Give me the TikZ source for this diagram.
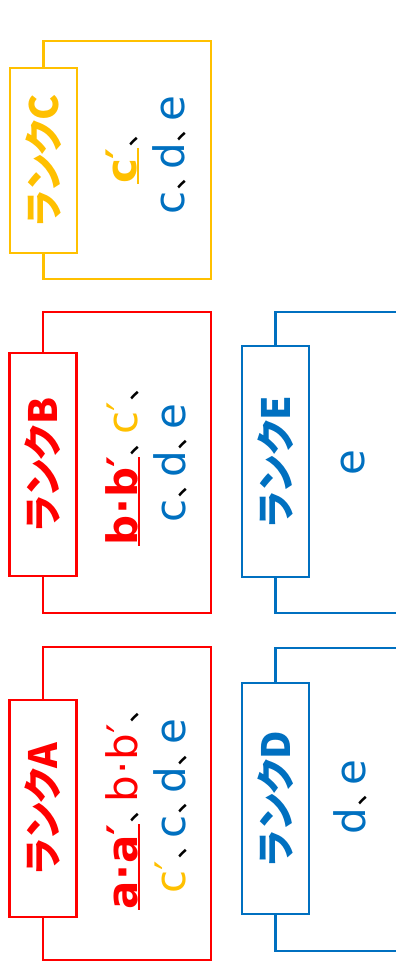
\documentclass[tikz,border=0pt]{standalone}
\usepackage{fontspec}
\setmainfont{DejaVu Sans}
\newfontfamily\jp[RawFeature=+palt]{Noto Sans CJK JP}
\usepackage{xcolor}
\usepackage{tikz}
\definecolor{rankgold}{HTML}{FFC000}
\definecolor{rankred}{HTML}{FF0000}
\definecolor{rankblue}{HTML}{0070C0}
\newcommand{\touten}{{\color{black}\mdseries\jp\fontsize{30}{30}\selectfont\kern1pt 、\kern6pt}}
\newcommand{\nakaten}{\kern1pt·\kern1pt}
\newcommand{\ulmark}[1]{\setbox0\hbox{#1}\rlap{\rule[-3pt]{\wd0}{2pt}}\box0}
\tikzset{
  rankbox/.style={draw,fill=white,line width=2.2pt,rotate=90,inner sep=0pt,minimum height=67,font=\jp\bfseries\fontsize{39}{39}\selectfont},
  bracket/.style={line width=2.2pt},
  members/.style={rotate=90,align=center,inner sep=0pt,font=\fontsize{42}{48}\selectfont}}

\begin{document}
\begin{tikzpicture}[x=1pt,y=-1pt]
\useasboundingbox (0,0) rectangle (396,967);
\node[rankgold,rankbox,minimum width=185] (rankC) at (43.5,160.5) {ランクC};
\draw[bracket,rankgold] (rankC.east) |- (211,41) -- (211,279) -| (rankC.west);
\node[rankred,rankbox,minimum width=223] (rankB) at (43,464.5) {ランクB};
\draw[bracket,rankred] (rankB.east) |- (211,312) -- (211,613) -| (rankB.west);
\node[rankred,rankbox,minimum width=217] (rankA) at (43,808.5) {ランクA};
\draw[bracket,rankred] (rankA.east) |- (211,647) -- (211,960) -| (rankA.west);
\node[rankblue,rankbox,minimum width=231] (rankE) at (275.5,461.5) {ランクE};
\draw[bracket,rankblue] (rankE.east) |- (400,312); \draw[bracket,rankblue] (rankE.west) |- (400,613);
\node[rankblue,rankbox,minimum width=231] (rankD) at (275.5,798.5) {ランクD};
\draw[bracket,rankblue] (rankD.east) |- (400,648); \draw[bracket,rankblue] (rankD.west) |- (400,951);
\node[members] (membC) at (146,155) {{\bfseries\color{rankgold}\ulmark{c′}}\touten\\{\color{rankblue}c}\touten{\color{rankblue}d}\touten{\color{rankblue}e}};
\node[members] (membB) at (146,463) {{\bfseries\color{rankred}\ulmark{b\nakaten b′}}\touten{\color{rankgold}c′}\touten\\{\color{rankblue}c}\touten{\color{rankblue}d}\touten{\color{rankblue}e}};
\node[members] (membA) at (146,806) {{\bfseries\color{rankred}\ulmark{a\nakaten a′}}\touten{\color{rankred}b\nakaten b′}\touten\\{\color{rankgold}c′}\touten{\color{rankblue}c}\touten{\color{rankblue}d}\touten{\color{rankblue}e}};
\node[members] (membE) at (353,463) {\color{rankblue}e};
\node[members] (membD) at (350,797) {{\color{rankblue}d}\touten{\color{rankblue}e}};
\end{tikzpicture}
\end{document}
